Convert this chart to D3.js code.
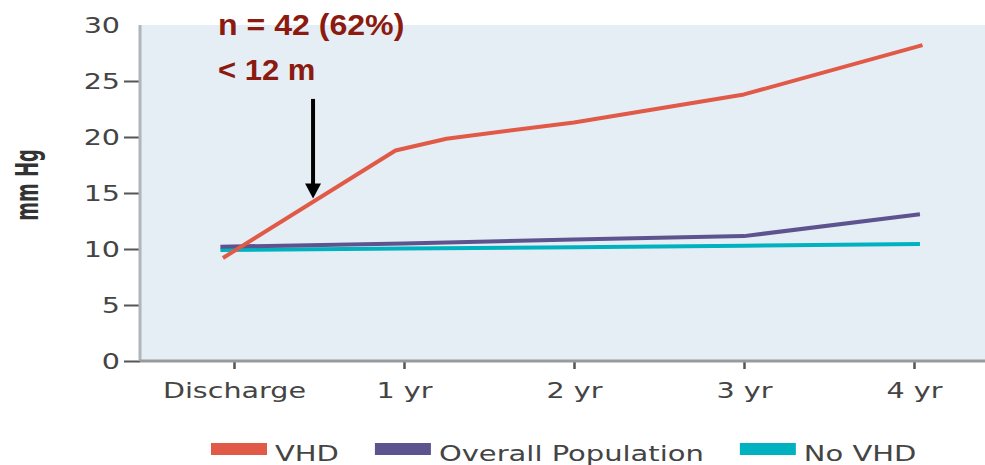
<!DOCTYPE html>
<html>
<head>
<meta charset="utf-8">
<script src="https://cdn.jsdelivr.net/npm/d3@7/dist/d3.min.js"></script>
<style>
  html, body { margin: 0; padding: 0; background: #fff; }
  svg { display: block; }
</style>
</head>
<body>
<div id="chart"></div>
<script>
// Pressure gradient over follow-up, three groups. Time in years after discharge.
const timeTicks = [0, 1, 2, 3, 4];
const timeLabels = ["Discharge", "1 yr", "2 yr", "3 yr", "4 yr"];
const yTicks = [0, 5, 10, 15, 20, 25, 30];

// [years, mm Hg] (lines start a bit before discharge, end a bit after 4 yr)
const vhd = [[-0.065, 9.2], [0.95, 18.8], [1.25, 19.85], [2, 21.3], [3, 23.8], [4.05, 28.2]];
const overall = [[-0.08, 10.2], [1, 10.5], [2, 10.85], [3, 11.15], [4.035, 13.1]];
const noVhd = [[-0.08, 9.9], [1, 10.05], [2, 10.15], [3, 10.3], [4.035, 10.45]];

const seriesNames = ["VHD", "Overall Population", "No VHD"];
const seriesColors = ["#e05a47", "#5d548f", "#00b2bf"];

// annotation: arrow pointing at the VHD line at ~6 months
const noteLines = ["n = 42 (62%)", "< 12 m"];
const arrowAt = { t: 0.465, from: 23.4, to: 14.5 };

const W = 985, H = 465;
const plot = { left: 140, right: 985, top: 25, bottom: 361 };
const STRETCH = 1.3; // the original is stretched horizontally

const svg = d3.select("#chart").append("svg").attr("width", W).attr("height", H);

const x = d3.scaleLinear().domain([0, 4]).range([234, 914]);
const y = d3.scaleLinear().domain([0, 30]).range([plot.bottom, plot.top]);

// plot background
svg.append("rect")
  .attr("x", plot.left).attr("y", plot.top)
  .attr("width", plot.right - plot.left).attr("height", plot.bottom - plot.top)
  .attr("fill", "#e6eef5");

// Y axis
const gY = svg.append("g").attr("transform", `translate(${plot.left},0)`)
  .call(d3.axisLeft(y).tickValues(yTicks).tickSize(16).tickPadding(4).tickSizeOuter(0));
gY.select(".domain").remove();
gY.selectAll(".tick line").attr("stroke", "#555").attr("stroke-width", 2)
  .attr("opacity", d => d === 30 ? 0 : 1);
gY.selectAll(".tick text")
  .attr("font-family", "DejaVu Sans").attr("font-size", 22).attr("fill", "#444")
  .attr("x", -20 / STRETCH)
  .attr("transform", `scale(${STRETCH},1)`);
svg.append("line")
  .attr("x1", plot.left).attr("x2", plot.left)
  .attr("y1", plot.top).attr("y2", plot.bottom)
  .attr("stroke", "#afb5b8").attr("stroke-width", 3);

// X axis
const gX = svg.append("g").attr("transform", `translate(0,${plot.bottom})`)
  .call(d3.axisBottom(x).tickValues(timeTicks).tickFormat((d, i) => timeLabels[i])
    .tickSize(8).tickPadding(13).tickSizeOuter(0));
gX.select(".domain").remove();
gX.selectAll(".tick line").attr("stroke", "#555").attr("stroke-width", 2.5);
gX.selectAll(".tick text")
  .attr("font-family", "DejaVu Sans").attr("font-size", 22).attr("fill", "#444")
  .attr("transform", `scale(${STRETCH},1)`);
svg.append("line")
  .attr("x1", plot.left).attr("x2", plot.right)
  .attr("y1", plot.bottom).attr("y2", plot.bottom)
  .attr("stroke", "#9a9a9a").attr("stroke-width", 3);

// Y title
svg.append("text")
  .attr("transform", `translate(38,185) rotate(-90) scale(1,1.75)`)
  .attr("text-anchor", "middle")
  .attr("font-family", "DejaVu Sans").attr("font-weight", "bold")
  .attr("font-size", 18).attr("fill", "#333")
  .text("mm Hg");

// Lines
const line = d3.line().x(d => x(d[0])).y(d => y(d[1]));
const data = [noVhd, overall, vhd];
const colorsInDrawOrder = [seriesColors[2], seriesColors[1], seriesColors[0]];
svg.append("g").selectAll("path")
  .data(data)
  .join("path")
  .attr("d", line)
  .attr("fill", "none")
  .attr("stroke", (d, i) => colorsInDrawOrder[i])
  .attr("stroke-width", 4)
  .attr("stroke-linejoin", "round");

// Annotation
const note = svg.append("g")
  .attr("font-family", "Liberation Sans, Arial, sans-serif")
  .attr("font-weight", "bold").attr("fill", "#8b1a10");
note.append("text").attr("transform", "translate(218,35) scale(1.07,1)")
  .attr("font-size", 30).text(noteLines[0]);
note.append("text").attr("transform", "translate(218,80) scale(1.07,1)")
  .attr("font-size", 29).text(noteLines[1]);

const ax = x(arrowAt.t);
svg.append("line")
  .attr("x1", ax).attr("x2", ax)
  .attr("y1", y(arrowAt.from)).attr("y2", y(arrowAt.to) - 12)
  .attr("stroke", "#000").attr("stroke-width", 4);
svg.append("path")
  .attr("d", d3.line()([[ax - 8, y(arrowAt.to) - 15], [ax + 8, y(arrowAt.to) - 15], [ax, y(arrowAt.to)]]) + "Z")
  .attr("fill", "#000");

// Legend
const LEG_STRETCH = 1.38;
const legend = svg.append("g").attr("transform", "translate(211,443)");
let xOff = 0;
seriesNames.forEach((name, i) => {
  const g = legend.append("g").attr("transform", `translate(${xOff},0)`);
  g.append("rect").attr("width", 56).attr("height", 12).attr("fill", seriesColors[i]);
  const t = g.append("text")
    .attr("transform", `translate(64,18) scale(${LEG_STRETCH},1)`)
    .attr("font-family", "DejaVu Sans").attr("font-size", 21).attr("fill", "#444")
    .text(name);
  xOff += 64 + t.node().getComputedTextLength() * LEG_STRETCH + 36;
});
</script>
</body>
</html>
